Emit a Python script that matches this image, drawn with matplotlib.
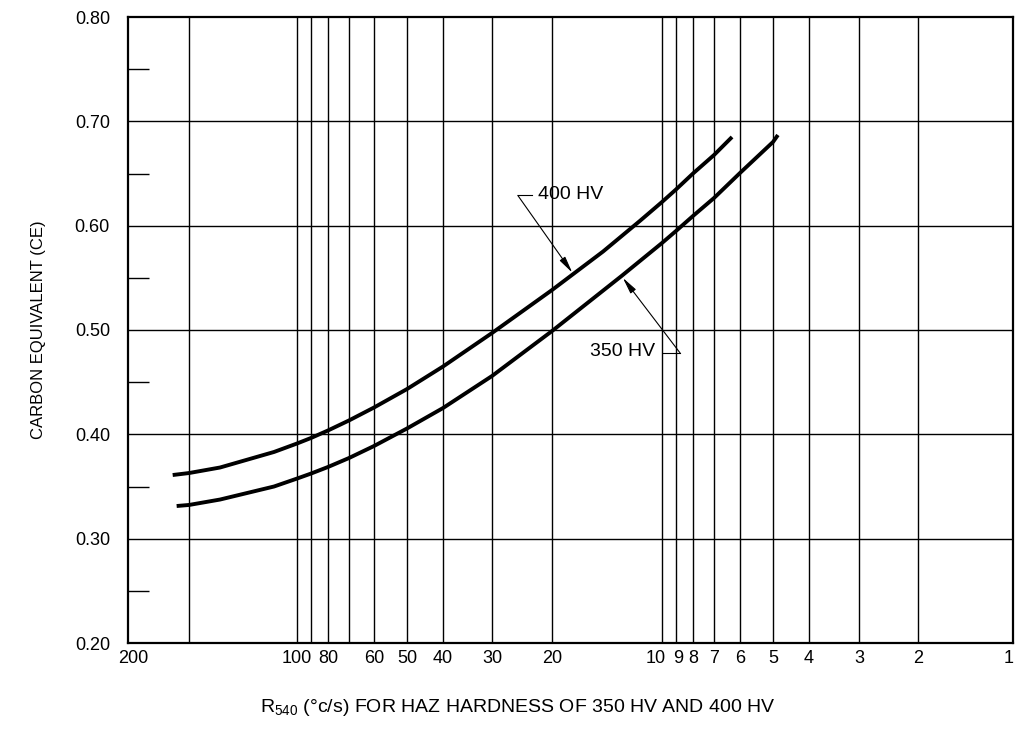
import numpy as np
import matplotlib
matplotlib.use("Agg")
import matplotlib.pyplot as plt
from matplotlib.transforms import ScaledTranslation

plt.rcParams['font.family'] = ['Liberation Sans', 'DejaVu Sans']

# ── Data ──────────────────────────────────────────────────────────────────────
r_400 = [162, 150, 133.5, 109, 100, 90, 80, 70, 60, 50, 40, 30, 20, 14.5,
         11.5, 10, 9, 8, 7, 6.29]
ce_400 = [0.3610, 0.3629, 0.3682, 0.3831, 0.3912, 0.3965, 0.4037, 0.4133,
          0.4257, 0.4434, 0.4650, 0.4971, 0.5383, 0.5752, 0.6045, 0.6227,
          0.6347, 0.6500, 0.6677, 0.6850]

r_350 = [159, 150, 133.5, 109, 100, 90, 80, 70, 60, 50, 40, 30, 20, 12.9,
         10, 9, 8, 7, 6, 5, 4.85]
ce_350 = [0.3313, 0.3323, 0.3375, 0.3500, 0.3576, 0.3624, 0.3687, 0.3773,
          0.3888, 0.4056, 0.4252, 0.4559, 0.4990, 0.5518, 0.5834, 0.5949,
          0.6093, 0.6265, 0.6505, 0.6802, 0.6869]

x_tick_vals = [200, 100, 80, 60, 50, 40, 30, 20, 10, 9, 8, 7, 6, 5, 4, 3, 2, 1]
x_grid_vals = [150, 100, 90, 80, 70, 60, 50, 40, 30, 20,
               10, 9, 8, 7, 6, 5, 4, 3, 2]
y_tick_vals = [0.20, 0.30, 0.40, 0.50, 0.60, 0.70, 0.80]
y_grid_vals = [0.30, 0.40, 0.50, 0.60, 0.70]
y_minor_vals = [0.25, 0.35, 0.45, 0.55, 0.65, 0.75]

# ── Hand-drawn log-like x scale (piecewise in log space, as printed) ─────────
KNOT_R = [0.01, 1, 2, 3, 4, 5, 6, 7, 8, 9, 10, 20, 30, 40, 50, 60, 70, 80, 90,
          100, 150, 200, 2000]
KNOT_POS = np.array([-631, 0, 95, 154, 204, 240, 273, 299, 320, 337, 351, 461,
                     521, 570, 606, 639, 664, 685, 702, 716, 824, 885, 1373],
                    dtype=float)
KNOT_LOG = np.log10(KNOT_R)


def fwd(r):
    r = np.asarray(r, dtype=float)
    lr = np.log10(np.where(r > 0, r, 1e-3))
    return np.interp(lr, KNOT_LOG, KNOT_POS)


def inv(v):
    return 10 ** np.interp(np.asarray(v, dtype=float), KNOT_POS, KNOT_LOG)


# ── Figure ────────────────────────────────────────────────────────────────────
fig = plt.figure(figsize=(10.16, 7.29), dpi=100)
ax = fig.add_axes([128 / 1016, 1 - 643 / 729, 885 / 1016, 626 / 729])
ax.set_xscale('function', functions=(fwd, inv))
ax.set_xlim(200, 1)
ax.set_ylim(0.20, 0.80)

for v in x_grid_vals:
    ax.axvline(v, color='black', lw=1.0, zorder=1)
for v in y_grid_vals:
    ax.axhline(v, color='black', lw=1.0, zorder=1)

ax.plot(r_400, ce_400, color='black', lw=2.8, solid_capstyle='butt',
        solid_joinstyle='round', zorder=3)
ax.plot(r_350, ce_350, color='black', lw=2.8, solid_capstyle='butt',
        solid_joinstyle='round', zorder=3)

# ── Labels on the curves ──────────────────────────────────────────────────────
arrow = dict(arrowstyle='-|>,head_width=0.2,head_length=1.0', color='black',
             lw=0.8, shrinkA=0, shrinkB=0)
ax.annotate('', xy=(17.6, 0.555), xytext=(25.2, 0.629), arrowprops=arrow,
            zorder=4)
ax.plot([25.2, 22.9], [0.629, 0.629], color='black', lw=0.8, zorder=4)
ax.text(22.0, 0.630, '400 HV', fontsize=14, ha='left', va='center', zorder=4)

ax.annotate('', xy=(12.8, 0.550), xytext=(8.75, 0.478), arrowprops=arrow,
            zorder=4)
ax.plot([9.92, 8.75], [0.478, 0.478], color='black', lw=0.8, zorder=4)
ax.text(10.45, 0.479, '350 HV', fontsize=14, ha='right', va='center', zorder=4)

# ── Axes ──────────────────────────────────────────────────────────────────────
ax.set_xticks(x_tick_vals)
ax.set_xticklabels([str(v) for v in x_tick_vals])
ax.xaxis.set_minor_locator(plt.NullLocator())
ax.set_yticks(y_tick_vals)
ax.set_yticklabels([f'{v:.2f}' for v in y_tick_vals])
ax.set_yticks(y_minor_vals, minor=True)
ax.tick_params(axis='both', which='major', length=0)
ax.tick_params(axis='x', which='major', pad=5, labelsize=13)
ax.tick_params(axis='y', which='major', pad=13, labelsize=13)
ax.tick_params(axis='y', which='minor', direction='in', length=15, width=1.0)

# nudge a few tick labels the way they sit on the printed chart (pixels)
nudges = {0: 5, 8: -6, 9: 2, 17: -4}
lbls = ax.get_xticklabels()
for i, dx in nudges.items():
    lbls[i].set_transform(lbls[i].get_transform()
                          + ScaledTranslation(dx / 100, 0, fig.dpi_scale_trans))

for sp in ax.spines.values():
    sp.set_linewidth(1.6)
    sp.set_color('black')

ax.set_ylabel('CARBON EQUIVALENT (CE)', fontsize=12)
ax.yaxis.set_label_coords(-0.093, 0.5)
ax.set_xlabel(r'R$\mathregular{_{540}}$ (°c/s) FOR HAZ HARDNESS OF 350 HV AND 400 HV',
              fontsize=14)
ax.xaxis.set_label_coords(0.44, -0.087)

fig.savefig('out.png', dpi=100, facecolor='white')
plt.close(fig)
